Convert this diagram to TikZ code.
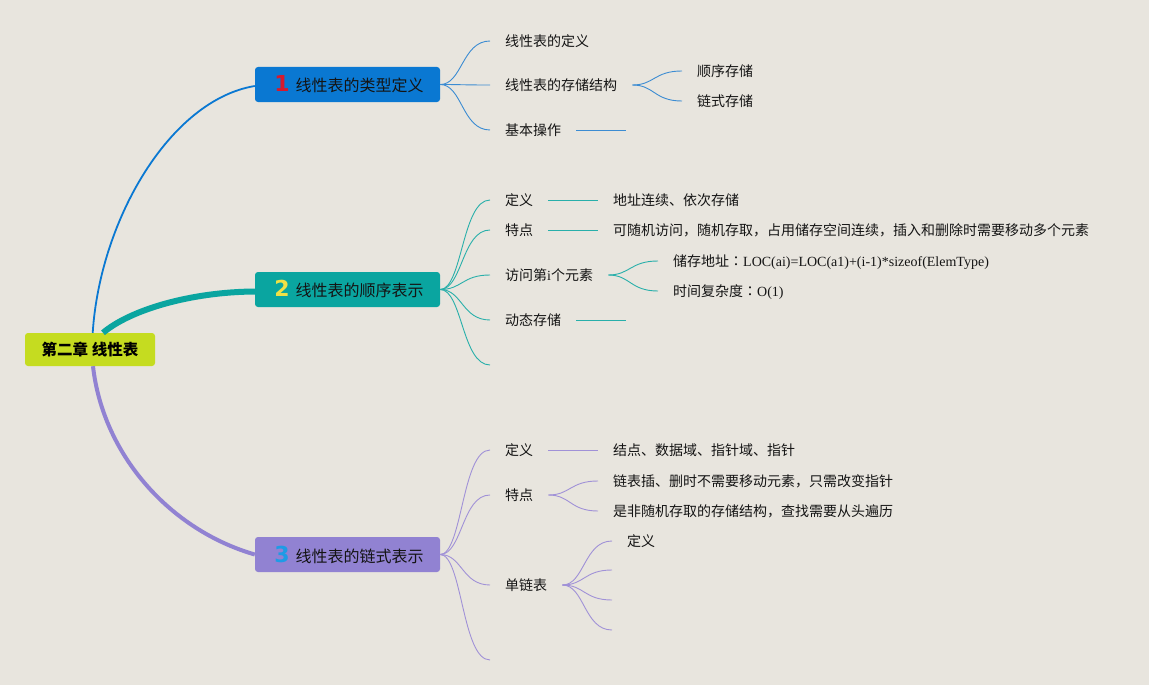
\documentclass[tikz,border=0pt]{standalone}
\usepackage{fontspec}
\setmainfont{Liberation Serif}
\newfontfamily\cjk{Noto Sans CJK SC}
\newfontfamily\cjktc{Noto Sans CJK TC}
\newfontfamily\numfont{DejaVu Sans}
\definecolor{bgc}{RGB}{232,229,222}
\definecolor{rootc}{RGB}{197,220,32}
\definecolor{bluec}{RGB}{10,120,210}
\definecolor{tealc}{RGB}{10,165,160}
\definecolor{purc}{RGB}{145,130,210}
\definecolor{lblue}{RGB}{60,140,210}
\definecolor{lteal}{RGB}{40,175,170}
\definecolor{lpur}{RGB}{160,145,215}
\definecolor{numred}{RGB}{215,25,45}
\definecolor{numyel}{RGB}{240,225,70}
\definecolor{numblue}{RGB}{30,155,230}
\definecolor{txt}{RGB}{20,20,20}
\newcommand\bnum[2]{\hspace{3pt}{\numfont\bfseries\fontsize{22}{22}\selectfont\color{#1}#2}}
\newcommand\tcolon{{\cjktc ：}}
\begin{document}
\begin{tikzpicture}[x=1pt,y=-1pt,
  rootbox/.style={fill=rootc,rounded corners=3pt,minimum width=130pt,minimum height=33pt,
    font=\cjk\bfseries\fontsize{15.5}{18}\selectfont,text=black,inner sep=0pt},
  branch/.style={rounded corners=3pt,minimum width=185pt,minimum height=35pt,
    font=\cjk\fontsize{16}{19}\selectfont,text=txt,inner sep=0pt},
  topic/.style={anchor=west,font=\cjk\fontsize{14}{16}\selectfont,text=txt,
    inner xsep=15pt,inner ysep=0pt,text height=11pt,text depth=0.6pt},
  l1/.style={draw=lblue,line width=0.9pt},
  l2/.style={draw=lteal,line width=0.9pt},
  l3/.style={draw=lpur,line width=0.9pt},
  fan/.style={to path={.. controls +(22,0) and +(-28,0) .. (\tikztotarget)}}
]
\fill[bgc] (0,0) rectangle (1149,685);
\useasboundingbox (0,0) rectangle (1149,685);

% root and main branches
\node[rootbox] (root) at (90,349.5) {第二章 线性表};
\node[branch,fill=bluec] (b1) at (347.5,84.5) {\bnum{numred}{1}\hspace{6pt}线性表的类型定义};
\node[branch,fill=tealc] (b2) at (347.5,289.5) {\bnum{numyel}{2}\hspace{6pt}线性表的顺序表示};
\node[branch,fill=purc] (b3) at (347.5,554.5) {\bnum{numblue}{3}\hspace{6pt}线性表的链式表示};

\draw[draw=bluec,line width=1.8pt] ([xshift=2.7pt]root.north) .. controls (100,220) and (170,100) .. ([yshift=-1.5pt]b1.west);
\draw[draw=tealc,line width=6pt] ([xshift=13pt]root.north) .. controls (130,310) and (190,292) .. ([yshift=-2pt]b2.west);
\draw[draw=purc,line width=4pt] ([xshift=3pt]root.south) .. controls (103,455) and (170,530) .. (b3.west);

% branch 1
\node[topic] (t11) at (490,41) {线性表的定义};
\node[topic] (t12) at (490,85) {线性表的存储结构};
\node[topic] (t13) at (490,130) {基本操作};
\node[topic] (t121) at (682,71) {顺序存储};
\node[topic] (t122) at (682,101) {链式存储};
\coordinate (e13) at (626,130);
\foreach \t in {t11,t12,t13} \draw[l1] (b1.east) to[fan] (\t.west);
\draw[l1] (t12.east) to[fan] (t121.west);
\draw[l1] (t12.east) to[fan] (t122.west);
\draw[l1] (t13.east) -- (e13);

% branch 2
\node[topic] (t21) at (490,200) {定义};
\node[topic] (t22) at (490,230) {特点};
\node[topic] (t23) at (490,275) {访问第{\rmfamily i}个元素};
\node[topic] (t24) at (490,320) {动态存储};
\coordinate (e25) at (490,365);
\node[topic] (t211) at (598,200) {地址连续、依次存储};
\node[topic] (t221) at (598,230) {可随机访问，随机存取，占用储存空间连续，插入和删除时需要移动多个元素};
\node[topic] (t231) at (658,261) {储存地址\tcolon{\rmfamily LOC(ai)=LOC(a1)+(i-1)*sizeof(ElemType)}};
\node[topic] (t232) at (658,291) {时间复杂度\tcolon{\rmfamily O(1)}};
\coordinate (e24) at (626,320);
\foreach \t in {t21,t22,t23,t24} \draw[l2] (b2.east) to[fan] (\t.west);
\draw[l2] (b2.east) to[fan] (e25);
\draw[l2] (t21.east) -- (t211.west);
\draw[l2] (t22.east) -- (t221.west);
\draw[l2] (t23.east) to[fan] (t231.west);
\draw[l2] (t23.east) to[fan] (t232.west);
\draw[l2] (t24.east) -- (e24);

% branch 3
\node[topic] (t31) at (490,450) {定义};
\node[topic] (t32) at (490,495) {特点};
\node[topic] (t33) at (490,585) {单链表};
\coordinate (e34) at (490,660);
\node[topic] (t311) at (598,450) {结点、数据域、指针域、指针};
\node[topic] (t321) at (598,481) {链表插、删时不需要移动元素，只需改变指针};
\node[topic] (t322) at (598,511) {是非随机存取的存储结构，查找需要从头遍历};
\node[topic] (t331) at (612,541) {定义};
\coordinate (e332) at (612,570);
\coordinate (e333) at (612,600);
\coordinate (e334) at (612,630);
\foreach \t in {t31,t32,t33} \draw[l3] (b3.east) to[fan] (\t.west);
\draw[l3] (b3.east) to[fan] (e34);
\draw[l3] (t31.east) -- (t311.west);
\draw[l3] (t32.east) to[fan] (t321.west);
\draw[l3] (t32.east) to[fan] (t322.west);
\draw[l3] (t33.east) to[fan] (t331.west);
\foreach \e in {e332,e333,e334} \draw[l3] (t33.east) to[fan] (\e);
\end{tikzpicture}
\end{document}
